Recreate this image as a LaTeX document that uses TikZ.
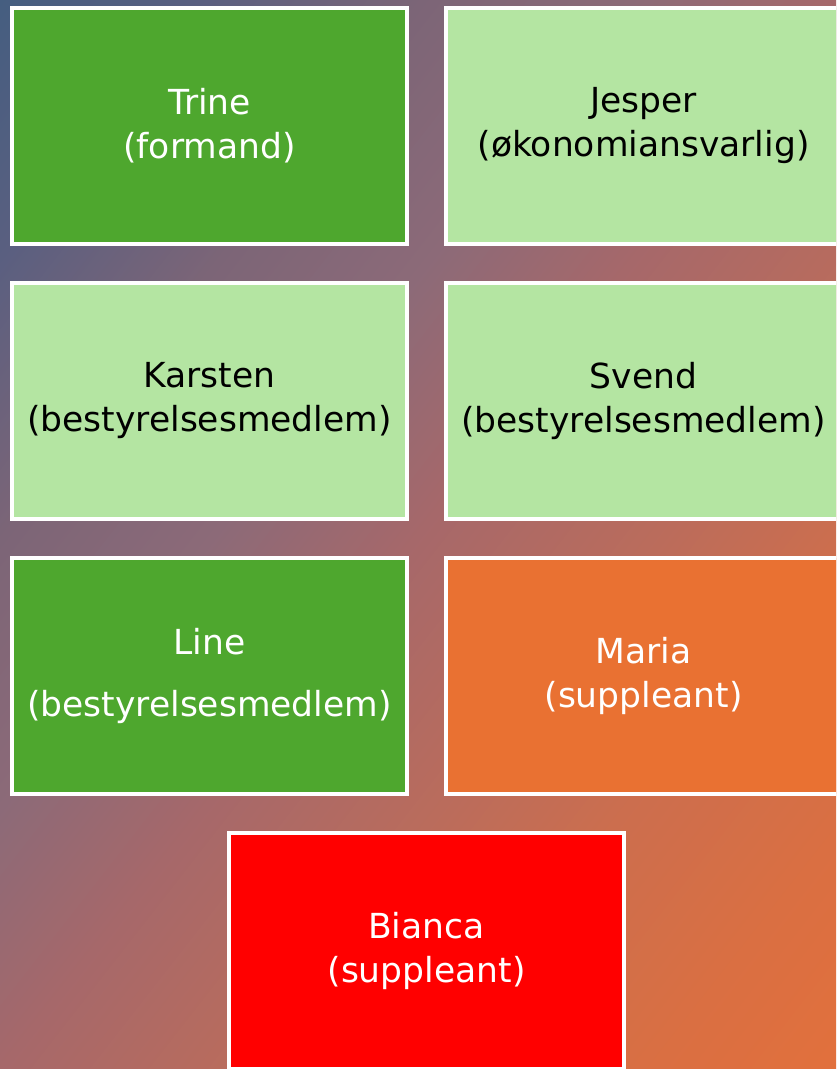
\documentclass[tikz,border=0pt]{standalone}
\usepackage{fontspec}
\setmainfont{DejaVu Sans}
\usepackage{tikz}
\usetikzlibrary{positioning,calc}

% baggrundsfarver, fra blaa (top venstre) til orange (bund hoejre)
\definecolor{bga}{HTML}{445E80}
\definecolor{bgb}{HTML}{5A5F80}
\definecolor{bgc}{HTML}{7C6577}
\definecolor{bgd}{HTML}{8C6A78}
\definecolor{bge}{HTML}{A6686A}
\definecolor{bgf}{HTML}{BA6C5C}
\definecolor{bgg}{HTML}{CC6E4E}
\definecolor{bgh}{HTML}{DA6F42}
\definecolor{bgi}{HTML}{E2703C}
\pgfdeclareverticalshading{bgshade}{100bp}{color(0bp)=(bgi); color(25bp)=(bgi);
  color(30.65bp)=(bgh); color(37.5bp)=(bgg); color(43bp)=(bgf); color(50bp)=(bge);
  color(56bp)=(bgd); color(62.25bp)=(bgc); color(68.75bp)=(bgb); color(75bp)=(bga);
  color(100bp)=(bga)}

\definecolor{darkgreen}{HTML}{4EA72E}
\definecolor{lightgreen}{HTML}{B4E5A2}
\definecolor{orangebox}{HTML}{E97132}
\definecolor{redbox}{HTML}{FF0000}

\begin{document}
\begin{tikzpicture}[x=1pt,y=1pt,node distance=35pt,
    every node/.style={font=\fontsize{34.5}{44}\selectfont}]
            % boks-stile
            \tikzstyle{box}=[draw=white,line width=4pt,minimum width=395pt,minimum height=236pt,align=center,inner sep=0pt]
            \tikzstyle{darkbox}=[box,fill=darkgreen,text=white]
            \tikzstyle{lightbox}=[box,fill=lightgreen,text=black]
            \tikzstyle{orangebox}=[box,fill=orangebox,text=white]
            \tikzstyle{redbox}=[box,fill=redbox,text=white]

            % baggrund
            \useasboundingbox (0,0) rectangle (836,-1069);
            \clip (0,0) rectangle (836,-1069);
            \begin{scope}[transform canvas={rotate around={52:(418,-534.5)}}]
                \shade[shading=bgshade] (-332,-1200) rectangle (1168,131);
            \end{scope}

            % bestyrelsen
            \node[darkbox] (trine) at (209.5,-126) {Trine\\(formand)};
            \node[lightbox] (jesper) [right=of trine] {Jesper\\(økonomiansvarlig)};
            \node[lightbox] (karsten) [below=of trine] {Karsten\\(bestyrelsesmedlem)};
            \node[lightbox] (svend) [below=of jesper] {Svend\\(bestyrelsesmedlem)};
            \node[darkbox] (line) [below=of karsten] {Line\\[18pt](bestyrelsesmedlem)};
            \node[orangebox] (maria) [below=of svend] {Maria\\(suppleant)};

            % suppleant nederst
            \coordinate (mid) at ($(line.south)!.5!(maria.south)$);
            \node[redbox] (bianca) [below=of mid] {Bianca\\(suppleant)};
        \end{tikzpicture}
\end{document}
